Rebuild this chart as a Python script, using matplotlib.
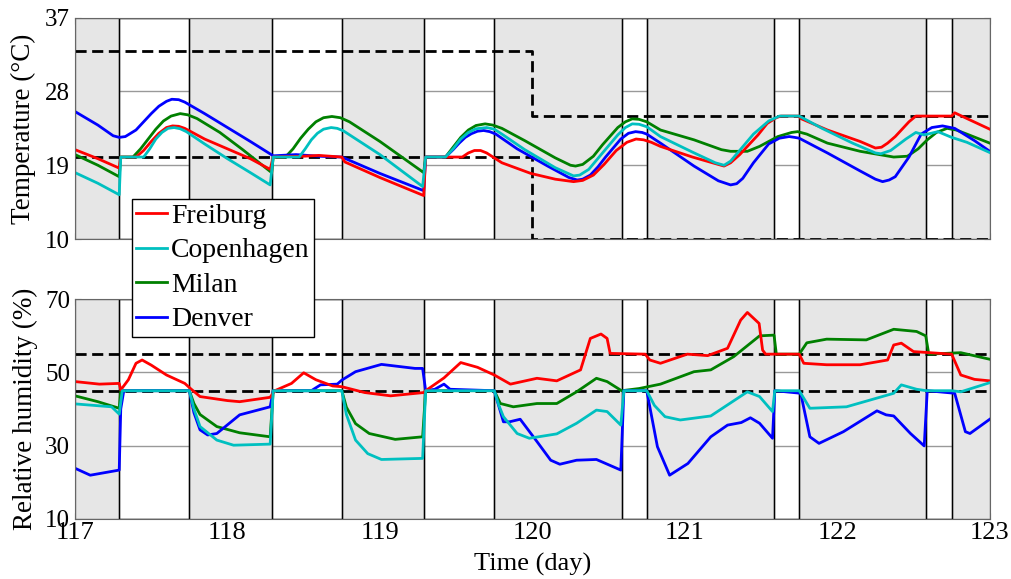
import matplotlib.pyplot as plt
from matplotlib.lines import Line2D

plt.rcParams['font.family'] = ['Liberation Serif', 'DejaVu Serif']

# occupied periods (white boxes)
occ_start = [117.29, 118.29, 119.29, 120.585, 121.585, 122.585]
occ_end = [117.75, 118.75, 119.75, 120.75, 121.75, 122.75]

# comfort band for temperature (step after day 120)
band_t = [117.0, 120.0, 120.0, 123.0]
band_hi = [33, 33, 25, 25]
band_lo = [20, 20, 10, 10]
rh_hi = 55
rh_lo = 45

cities = ['Freiburg', 'Copenhagen', 'Milan', 'Denver']
colors = {'Freiburg': '#ff0000', 'Copenhagen': '#00c0c0', 'Milan': '#008000', 'Denver': '#0000ff'}

# temperature, deg C
fr_t_temp = [117.0, 117.15, 117.29, 117.30, 117.40, 117.45, 117.50, 117.55, 117.60, 117.64, 117.68, 117.72,
             117.78, 117.85, 118.0, 118.15, 118.28, 118.30, 118.5, 118.6, 118.75, 118.77, 119.0, 119.287,
             119.30, 119.54, 119.58, 119.62, 119.66, 119.70, 119.80, 119.99, 120.15, 120.27, 120.33, 120.40,
             120.47, 120.55, 120.62, 120.68, 120.73, 120.78, 120.84, 121.05, 121.20, 121.257, 121.30, 121.36,
             121.41, 121.48, 121.54, 121.60, 121.63, 121.75, 121.76, 121.935, 122.15, 122.25, 122.29, 122.33,
             122.38, 122.42, 122.47, 122.515, 122.75, 122.77, 122.85, 123.0]
fr_temp = [20.9, 19.8, 18.65, 20.0, 20.0, 20.8, 21.9, 22.9, 23.6, 23.8, 23.75, 23.5,
           22.9, 22.2, 21.0, 19.8, 18.5, 20.0, 20.1, 20.2, 20.0, 19.4, 17.5, 15.3,
           20.0, 20.0, 20.5, 20.8, 20.8, 20.5, 19.3, 18.0, 17.3, 17.0, 17.15, 17.8,
           19.1, 20.8, 21.8, 22.2, 22.1, 21.8, 21.3, 20.0, 19.2, 18.9, 19.3, 20.3,
           21.3, 22.7, 24.1, 24.8, 25.0, 25.0, 24.7, 23.3, 21.9, 21.1, 21.2, 21.7,
           22.5, 23.3, 24.3, 25.0, 25.0, 25.4, 24.7, 23.4]

cp_t_temp = [117.0, 117.15, 117.29, 117.30, 117.45, 117.49, 117.53, 117.57, 117.61, 117.65, 117.69, 117.73,
             117.85, 118.0, 118.15, 118.28, 118.30, 118.47, 118.51, 118.55, 118.59, 118.63, 118.68, 118.72,
             118.76, 119.0, 119.28, 119.30, 119.43, 119.48, 119.53, 119.58, 119.63, 119.70, 119.75, 119.80,
             119.95, 120.15, 120.27, 120.31, 120.37, 120.46, 120.56, 120.61, 120.655, 120.70, 120.75, 120.84,
             121.05, 121.20, 121.257, 121.30, 121.35, 121.45, 121.55, 121.62, 121.75, 121.9, 122.1, 122.25,
             122.286, 122.35, 122.45, 122.515, 122.57, 122.66, 122.75, 122.85, 123.0]
cp_temp = [18.1, 16.8, 15.4, 20.0, 20.0, 21.0, 22.2, 23.0, 23.5, 23.6, 23.45, 23.1,
           21.6, 19.8, 18.1, 16.6, 20.0, 20.0, 21.0, 22.1, 22.9, 23.4, 23.6, 23.5,
           23.2, 20.3, 16.4, 20.0, 20.0, 21.0, 22.2, 23.0, 23.45, 23.6, 23.4, 22.8,
           20.9, 18.7, 17.7, 17.8, 18.5, 20.5, 22.7, 23.6, 24.05, 24.0, 23.7, 22.5,
           20.6, 19.3, 19.0, 19.5, 20.6, 22.8, 24.4, 25.0, 25.0, 23.5, 21.7, 20.5,
           20.4, 20.8, 22.2, 23.0, 22.7, 23.1, 22.4, 21.8, 20.55]

mi_t_temp = [117.0, 117.15, 117.29, 117.30, 117.38, 117.43, 117.48, 117.53, 117.58, 117.63, 117.69, 117.74,
             117.80, 117.95, 118.1, 118.29, 118.30, 118.38, 118.43, 118.48, 118.53, 118.58, 118.63, 118.685,
             118.74, 118.80, 119.0, 119.287, 119.30, 119.43, 119.48, 119.53, 119.58, 119.63, 119.69, 119.74,
             119.80, 119.95, 120.15, 120.25, 120.283, 120.33, 120.40, 120.46, 120.56, 120.61, 120.655, 120.70,
             120.75, 120.84, 121.06, 121.24, 121.30, 121.41, 121.49, 121.61, 121.70, 121.74, 121.80, 121.935,
             122.15, 122.37, 122.46, 122.53, 122.59, 122.65, 122.72, 122.78, 122.85, 123.0]
mi_temp = [20.3, 19.0, 17.6, 20.0, 20.0, 21.0, 22.2, 23.4, 24.4, 25.0, 25.3, 25.15,
           24.7, 23.0, 20.9, 18.1, 20.0, 20.0, 21.0, 22.3, 23.4, 24.3, 24.8, 24.95,
           24.8, 24.3, 21.9, 18.1, 20.0, 20.0, 21.2, 22.4, 23.3, 23.85, 24.05, 23.9,
           23.5, 22.0, 19.9, 19.0, 18.9, 19.1, 20.1, 21.5, 23.6, 24.3, 24.66, 24.6,
           24.3, 23.3, 22.1, 20.9, 20.7, 20.7, 21.3, 22.5, 23.0, 23.1, 22.8, 21.7,
           20.7, 20.0, 20.1, 21.0, 22.1, 23.0, 23.5, 23.3, 22.8, 21.7]

de_t_temp = [117.0, 117.15, 117.25, 117.29, 117.33, 117.40, 117.45, 117.50, 117.55, 117.60, 117.635, 117.68,
             117.72, 117.85, 118.0, 118.15, 118.30, 118.45, 118.6, 118.75, 119.0, 119.287, 119.30, 119.43,
             119.48, 119.52, 119.56, 119.60, 119.64, 119.68, 119.72, 119.76, 119.9, 120.1, 120.24, 120.294,
             120.33, 120.38, 120.43, 120.48, 120.58, 120.63, 120.677, 120.72, 120.75, 120.84, 121.06, 121.22,
             121.30, 121.34, 121.38, 121.45, 121.55, 121.62, 121.684, 121.72, 121.75, 121.935, 122.15, 122.25,
             122.297, 122.34, 122.38, 122.47, 122.55, 122.62, 122.69, 122.77, 122.9, 123.0]
de_temp = [25.55, 23.9, 22.6, 22.4, 22.5, 23.3, 24.3, 25.3, 26.2, 26.8, 27.05, 27.0,
           26.7, 25.3, 23.6, 21.9, 20.15, 20.3, 20.1, 20.0, 18.0, 15.9, 20.0, 20.0,
           20.9, 21.7, 22.4, 22.85, 23.15, 23.24, 23.1, 22.8, 21.0, 18.9, 17.5, 17.2,
           17.3, 17.8, 18.8, 20.0, 22.2, 22.9, 23.1, 23.0, 22.8, 21.7, 18.9, 17.1,
           16.6, 16.75, 17.4, 19.3, 21.6, 22.3, 22.5, 22.4, 22.3, 20.5, 18.3, 17.3,
           17.0, 17.2, 17.6, 20.0, 22.8, 23.6, 23.8, 23.5, 22.0, 20.7]

# relative humidity, %
fr_t_rh = [117.0, 117.16, 117.29, 117.30, 117.35, 117.40, 117.44, 117.50, 117.60, 117.72, 117.76, 117.82,
           118.0, 118.08, 118.28, 118.31, 118.42, 118.50, 118.58, 118.69, 118.75, 118.9, 119.07, 119.287,
           119.30, 119.42, 119.53, 119.64, 119.75, 119.856, 120.03, 120.16, 120.316, 120.38, 120.45, 120.49,
           120.51, 120.74, 120.77, 120.84, 121.016, 121.15, 121.28, 121.366, 121.41, 121.487, 121.51, 121.53,
           121.75, 121.78, 121.93, 122.15, 122.33, 122.37, 122.42, 122.50, 122.75, 122.81, 122.90, 123.0]
fr_rh = [47.5, 46.8, 47.0, 45.2, 48.0, 52.5, 53.4, 52.0, 49.3, 47.0, 45.5, 43.4,
         42.3, 42.0, 43.2, 45.0, 47.0, 49.9, 48.0, 46.3, 46.1, 44.5, 43.6, 44.5,
         45.0, 48.5, 52.7, 51.4, 49.3, 46.8, 48.4, 47.7, 50.7, 59.3, 60.5, 59.3,
         55.2, 55.0, 53.4, 52.5, 55.0, 54.6, 56.6, 64.3, 66.4, 63.4, 56.1, 55.0,
         55.0, 52.5, 52.1, 52.1, 53.4, 57.5, 58.0, 55.7, 55.0, 49.3, 48.1, 47.7]

cp_t_rh = [117.0, 117.24, 117.29, 117.31, 117.75, 117.78, 117.82, 117.93, 118.04, 118.28, 118.30, 118.75,
           118.78, 118.84, 118.92, 119.01, 119.28, 119.30, 119.75, 119.78, 119.81, 119.90, 119.98, 120.16,
           120.29, 120.42, 120.49, 120.58, 120.60, 120.75, 120.80, 120.87, 120.97, 121.17, 121.41, 121.49,
           121.575, 121.59, 121.75, 121.82, 122.06, 122.37, 122.42, 122.52, 122.585, 122.75, 122.81, 123.0]
cp_rh = [41.4, 40.6, 38.6, 45.0, 45.0, 40.0, 35.2, 31.5, 30.1, 30.4, 45.0, 45.0,
         38.5, 31.5, 27.8, 26.2, 26.5, 45.0, 45.0, 41.0, 37.9, 33.3, 32.0, 33.2,
         36.1, 39.7, 39.3, 35.6, 45.0, 45.0, 41.0, 37.9, 37.0, 38.1, 44.7, 43.4,
         39.3, 45.0, 45.0, 40.2, 40.6, 44.3, 46.6, 45.4, 45.0, 45.0, 44.7, 47.2]

mi_t_rh = [117.0, 117.15, 117.29, 117.30, 117.75, 117.78, 117.82, 117.93, 118.08, 118.28, 118.30, 118.75,
           118.78, 118.84, 118.93, 119.10, 119.28, 119.30, 119.75, 119.79, 119.875, 120.03, 120.16, 120.29,
           120.42, 120.49, 120.585, 120.70, 120.84, 121.06, 121.17, 121.32, 121.49, 121.585, 121.60, 121.75,
           121.80, 121.93, 122.19, 122.37, 122.52, 122.58, 122.60, 122.81, 123.0]
mi_rh = [43.6, 42.0, 40.2, 45.0, 45.0, 41.5, 38.5, 35.2, 33.5, 32.4, 45.0, 45.0,
         40.5, 36.0, 33.3, 31.7, 32.4, 45.0, 45.0, 41.5, 40.6, 41.5, 41.5, 44.7,
         48.4, 47.5, 45.0, 45.6, 46.8, 50.2, 50.7, 54.3, 60.0, 60.2, 55.0, 55.0,
         58.1, 59.1, 58.9, 61.8, 61.2, 60.0, 55.0, 55.4, 53.6]

de_t_rh = [117.0, 117.10, 117.29, 117.30, 117.32, 117.75, 117.78, 117.82, 117.87, 117.93, 118.08, 118.28,
           118.30, 118.55, 118.61, 118.72, 118.75, 118.84, 119.01, 119.23, 119.28, 119.30, 119.36, 119.42,
           119.46, 119.75, 119.81, 119.85, 119.92, 120.03, 120.12, 120.18, 120.29, 120.42, 120.58, 120.60,
           120.75, 120.82, 120.90, 121.02, 121.17, 121.28, 121.37, 121.43, 121.49, 121.575, 121.59, 121.76,
           121.82, 121.88, 122.04, 122.26, 122.32, 122.37, 122.48, 122.57, 122.59, 122.77, 122.84, 122.87,
           123.0]
de_rh = [23.8, 21.9, 23.3, 40.0, 45.0, 45.0, 39.0, 34.3, 32.9, 33.3, 38.4, 40.6,
         45.0, 45.0, 46.6, 46.8, 47.9, 50.2, 52.2, 51.1, 51.1, 45.0, 45.4, 46.8,
         45.4, 45.0, 36.5, 36.5, 37.2, 31.1, 26.0, 24.9, 26.0, 26.2, 23.3, 45.0,
         45.0, 29.7, 21.9, 25.1, 32.4, 35.6, 36.3, 37.6, 36.1, 32.0, 45.0, 44.3,
         32.4, 30.6, 33.8, 39.5, 38.4, 38.1, 33.3, 29.9, 45.0, 44.3, 33.8, 33.3,
         37.2]

temp_series = {'Freiburg': (fr_t_temp, fr_temp), 'Copenhagen': (cp_t_temp, cp_temp),
               'Milan': (mi_t_temp, mi_temp), 'Denver': (de_t_temp, de_temp)}
rh_series = {'Freiburg': (fr_t_rh, fr_rh), 'Copenhagen': (cp_t_rh, cp_rh),
             'Milan': (mi_t_rh, mi_rh), 'Denver': (de_t_rh, de_rh)}
draw_order = ['Milan', 'Denver', 'Freiburg', 'Copenhagen']

fig = plt.figure(figsize=(10.11, 5.79), dpi=100)
ax1 = fig.add_axes([0.0742, 0.5872, 0.9048, 0.3822])
ax2 = fig.add_axes([0.0742, 0.1041, 0.9048, 0.3790])


def background(ax, yticks):
    ax.set_xlim(117, 123)
    ax.set_ylim(yticks[0], yticks[-1])
    ax.set_yticks(yticks)
    ax.set_xticks(range(117, 124))
    ax.set_axisbelow(True)
    ax.grid(axis='y', color='#999999', lw=1)
    # unoccupied hours in gray
    edges = [117.0] + [v for pair in zip(occ_start, occ_end) for v in pair] + [123.0]
    for a, b in zip(edges[0::2], edges[1::2]):
        ax.axvspan(a, b, facecolor='#e6e6e6', edgecolor='#707070', lw=1, zorder=1)
    for a, b in zip(occ_start, occ_end):
        ax.axvspan(a, b, facecolor='none', edgecolor='black', lw=1, zorder=1.2)
    ax.tick_params(direction='in', length=4, top=True, right=True, color='#666666', labelsize=18)
    ax.tick_params(axis='x', labelsize=19, pad=2)
    for s in ax.spines.values():
        s.set_color('#666666')


background(ax1, [10, 19, 28, 37])
background(ax2, [10, 30, 50, 70])

dash = (0, (4, 2))
ax1.plot(band_t, band_hi, color='black', ls=dash, lw=2, zorder=1.5)
ax1.plot(band_t, band_lo, color='black', ls=dash, lw=2, zorder=1.5)
ax2.axhline(rh_hi, color='black', ls=dash, lw=2, zorder=1.5)
ax2.axhline(rh_lo, color='black', ls=dash, lw=2, zorder=1.5)

for c in draw_order:
    ax1.plot(*temp_series[c], color=colors[c], lw=2, zorder=2)
    ax2.plot(*rh_series[c], color=colors[c], lw=2, zorder=2)

ax1.tick_params(axis='x', labelbottom=False)
ax1.set_ylabel('Temperature (°C)', fontsize=19.5)
ax2.set_ylabel('Relative humidity (%)', fontsize=19.5)
ax1.yaxis.set_label_coords(-0.043, 0.5)
ax2.yaxis.set_label_coords(-0.041, 0.5)
ax2.set_xlabel('Time (day)', fontsize=19, labelpad=7)

handles = [Line2D([], [], color=colors[c], lw=2) for c in cities]
fig.legend(handles, cities, loc='upper left', bbox_to_anchor=(0.1306, 0.6563), fontsize=20,
           frameon=True, fancybox=False, edgecolor='black', framealpha=1, borderpad=0.15,
           labelspacing=0.33, handlelength=1.1, handletextpad=0.15, borderaxespad=0)

fig.savefig('out.png', dpi=100)
